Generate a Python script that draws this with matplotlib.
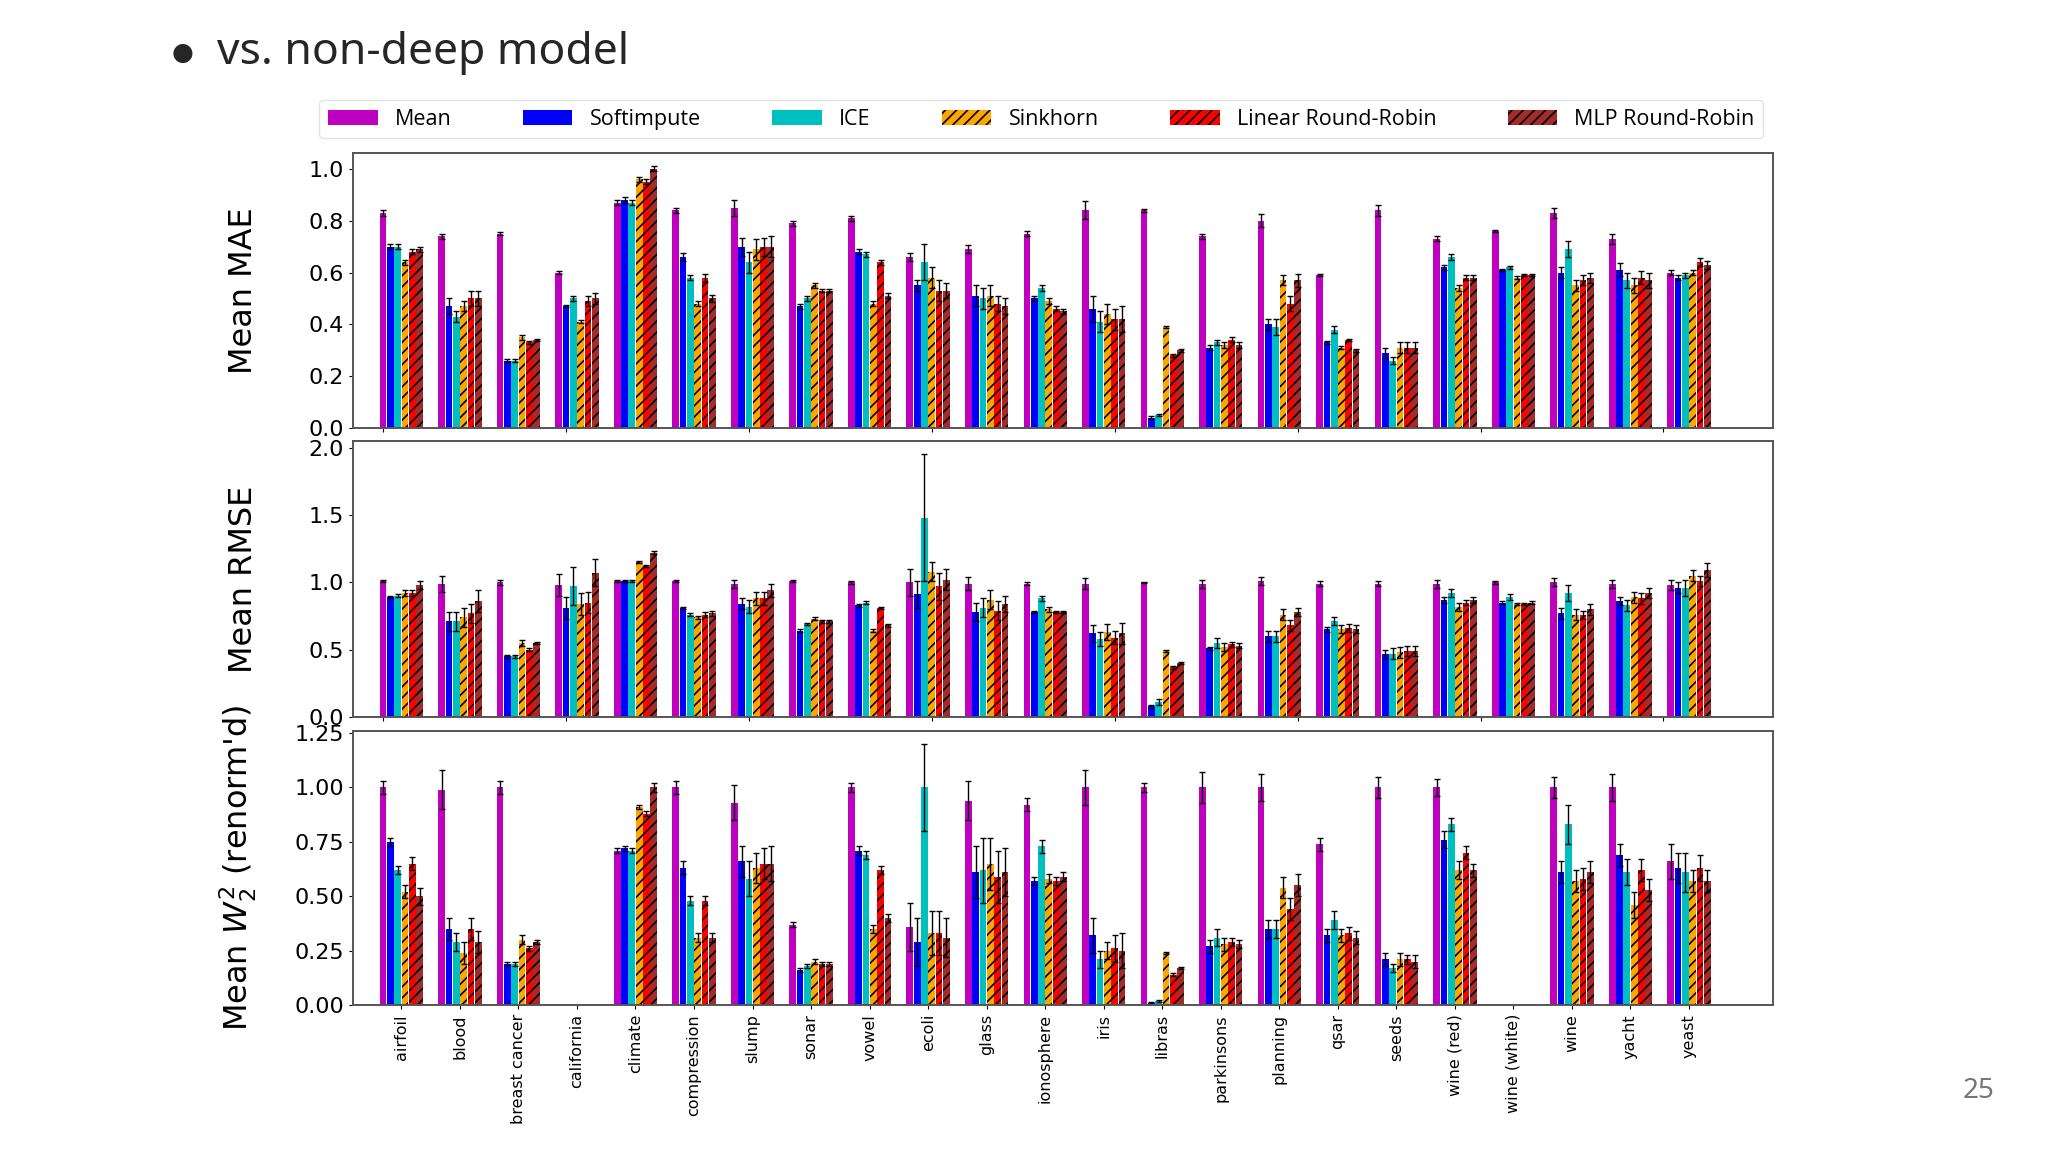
import numpy as np
import matplotlib
matplotlib.use("Agg")
import matplotlib.pyplot as plt
from matplotlib.patches import Patch
from matplotlib.ticker import MultipleLocator, FormatStrFormatter

datasets = ["airfoil", "blood", "breast cancer", "california", "climate", "compression",
            "slump", "sonar", "vowel", "ecoli", "glass", "ionosphere", "iris", "libras",
            "parkinsons", "planning", "qsar", "seeds", "wine (red)", "wine (white)",
            "wine", "yacht", "yeast"]
methods = ["Mean", "Softimpute", "ICE", "Sinkhorn", "Linear Round-Robin", "MLP Round-Robin"]
colors = ["#bf00bf", "#0000ff", "#00bfbf", "orange", "red", "brown"]
hatches = [None, None, None, "///", "///", "///"]

nan = np.nan

# ---- Mean MAE ----
mae_mean = [0.83, 0.74, 0.75, 0.60, 0.87, 0.84, 0.85, 0.79, 0.81, 0.66, 0.69, 0.75,
            0.84, 0.84, 0.74, 0.80, 0.59, 0.84, 0.73, 0.76, 0.83, 0.73, 0.60]
mae_soft = [0.70, 0.47, 0.26, 0.47, 0.88, 0.66, 0.70, 0.47, 0.68, 0.55, 0.51, 0.50,
            0.46, 0.04, 0.31, 0.40, 0.33, 0.29, 0.62, 0.61, 0.60, 0.61, 0.58]
mae_ice = [0.70, 0.43, 0.26, 0.50, 0.87, 0.58, 0.64, 0.50, 0.67, 0.64, 0.50, 0.54,
           0.41, 0.05, 0.33, 0.39, 0.38, 0.26, 0.66, 0.62, 0.69, 0.57, 0.59]
mae_sink = [0.64, 0.47, 0.35, 0.41, 0.96, 0.48, 0.69, 0.55, 0.48, 0.58, 0.51, 0.49,
            0.44, 0.39, 0.32, 0.57, 0.31, 0.31, 0.54, 0.58, 0.55, 0.55, 0.60]
mae_lin = [0.68, 0.50, 0.33, 0.49, 0.95, 0.58, 0.70, 0.53, 0.64, 0.53, 0.48, 0.46,
           0.42, 0.28, 0.34, 0.48, 0.34, 0.31, 0.58, 0.59, 0.57, 0.58, 0.64]
mae_mlp = [0.69, 0.50, 0.34, 0.50, 1.00, 0.50, 0.70, 0.53, 0.51, 0.53, 0.47, 0.45,
           0.42, 0.30, 0.32, 0.57, 0.30, 0.31, 0.58, 0.59, 0.58, 0.57, 0.63]

mae_mean_err = [.01, .01, .005, .005, .01, .01, .03, .01, .01, .015, .015, .01,
                .035, .005, .01, .025, .005, .02, .01, .005, .02, .02, .01]
mae_soft_err = [.01, .03, .005, .005, .01, .015, .035, .01, .01, .02, .04, .01,
                .05, .005, .01, .02, .005, .02, .01, .005, .02, .025, .01]
mae_ice_err = [.01, .02, .005, .01, .01, .01, .04, .01, .01, .07, .04, .01,
               .04, .005, .01, .03, .015, .015, .01, .005, .03, .03, .01]
mae_sink_err = [.01, .02, .01, .005, .01, .01, .04, .01, .01, .04, .04, .01,
                .04, .005, .01, .02, .005, .02, .01, .005, .02, .03, .01]
mae_lin_err = [.01, .03, .005, .02, .01, .015, .035, .005, .01, .04, .03, .01,
               .04, .005, .01, .03, .005, .02, .01, .005, .02, .025, .015]
mae_mlp_err = [.01, .03, .005, .02, .01, .015, .04, .005, .01, .03, .03, .01,
               .05, .005, .01, .025, .005, .02, .01, .005, .02, .03, .015]

# ---- Mean RMSE ----
rmse_mean = [1.01, 0.99, 1.00, 0.98, 1.01, 1.01, 0.99, 1.01, 1.00, 1.00, 0.99, 0.99,
             0.99, 1.00, 0.99, 1.01, 0.99, 0.99, 0.99, 1.00, 1.00, 0.99, 0.98]
rmse_soft = [0.89, 0.71, 0.45, 0.81, 1.01, 0.81, 0.84, 0.64, 0.83, 0.91, 0.78, 0.78,
             0.62, 0.08, 0.51, 0.60, 0.65, 0.47, 0.87, 0.85, 0.77, 0.86, 0.96]
rmse_ice = [0.90, 0.71, 0.45, 0.97, 1.01, 0.76, 0.82, 0.69, 0.85, 1.48, 0.81, 0.88,
            0.58, 0.11, 0.55, 0.60, 0.71, 0.47, 0.92, 0.89, 0.92, 0.83, 0.96]
rmse_sink = [0.92, 0.74, 0.55, 0.84, 1.15, 0.74, 0.88, 0.73, 0.64, 1.08, 0.87, 0.80,
             0.63, 0.49, 0.52, 0.76, 0.65, 0.48, 0.82, 0.84, 0.76, 0.89, 1.05]
rmse_lin = [0.92, 0.77, 0.50, 0.85, 1.12, 0.76, 0.88, 0.71, 0.81, 0.97, 0.79, 0.78,
            0.59, 0.37, 0.54, 0.68, 0.66, 0.49, 0.85, 0.84, 0.76, 0.88, 1.01]
rmse_mlp = [0.98, 0.86, 0.55, 1.07, 1.22, 0.77, 0.94, 0.71, 0.68, 1.02, 0.84, 0.78,
            0.62, 0.40, 0.53, 0.78, 0.65, 0.49, 0.87, 0.85, 0.80, 0.92, 1.09]

rmse_mean_err = [.01, .06, .02, .08, .01, .01, .03, .01, .01, .10, .05, .01,
                 .04, .005, .03, .03, .02, .02, .03, .01, .03, .03, .04]
rmse_soft_err = [.01, .07, .01, .08, .01, .01, .04, .01, .01, .10, .07, .01,
                 .06, .01, .01, .04, .02, .03, .02, .01, .04, .03, .04]
rmse_ice_err = [.01, .07, .01, .14, .01, .01, .05, .01, .01, .47, .07, .02,
                .05, .02, .04, .04, .03, .04, .03, .02, .06, .04, .06]
rmse_sink_err = [.02, .07, .02, .08, .01, .01, .05, .01, .01, .07, .07, .02,
                 .06, .01, .03, .04, .03, .04, .03, .01, .04, .04, .04]
rmse_lin_err = [.02, .07, .01, .08, .01, .02, .05, .01, .01, .10, .07, .01,
                .05, .01, .02, .04, .03, .04, .02, .01, .03, .04, .04]
rmse_mlp_err = [.03, .08, .01, .10, .01, .02, .05, .01, .01, .08, .06, .01,
                .08, .01, .02, .03, .03, .04, .02, .01, .04, .04, .05]

# ---- Mean W2^2 (renormalised) ----
w2_mean = [1.00, 0.99, 1.00, nan, 0.71, 1.00, 0.93, 0.37, 1.00, 0.36, 0.94, 0.92,
           1.00, 1.00, 1.00, 1.00, 0.74, 1.00, 1.00, nan, 1.00, 1.00, 0.66]
w2_soft = [0.75, 0.35, 0.19, nan, 0.72, 0.63, 0.66, 0.16, 0.71, 0.29, 0.61, 0.57,
           0.32, 0.01, 0.27, 0.35, 0.32, 0.21, 0.76, nan, 0.61, 0.69, 0.63]
w2_ice = [0.62, 0.29, 0.19, nan, 0.71, 0.48, 0.58, 0.18, 0.69, 1.00, 0.62, 0.73,
          0.21, 0.02, 0.31, 0.35, 0.39, 0.17, 0.83, nan, 0.83, 0.61, 0.61]
w2_sink = [0.52, 0.24, 0.30, nan, 0.91, 0.31, 0.63, 0.20, 0.35, 0.33, 0.65, 0.58,
           0.25, 0.24, 0.28, 0.54, 0.32, 0.21, 0.62, nan, 0.57, 0.46, 0.57]
w2_lin = [0.65, 0.35, 0.26, nan, 0.88, 0.48, 0.65, 0.19, 0.62, 0.33, 0.59, 0.57,
          0.26, 0.14, 0.29, 0.44, 0.33, 0.21, 0.70, nan, 0.58, 0.62, 0.63]
w2_mlp = [0.50, 0.29, 0.29, nan, 1.00, 0.31, 0.65, 0.19, 0.40, 0.31, 0.61, 0.59,
          0.25, 0.17, 0.28, 0.55, 0.31, 0.20, 0.62, nan, 0.61, 0.53, 0.57]

w2_mean_err = [.03, .09, .03, nan, .01, .03, .08, .01, .02, .11, .09, .03,
               .08, .02, .07, .06, .03, .05, .04, nan, .05, .06, .08]
w2_soft_err = [.02, .05, .01, nan, .01, .03, .07, .01, .02, .11, .12, .02,
               .08, .005, .03, .04, .03, .03, .04, nan, .05, .05, .07]
w2_ice_err = [.02, .04, .01, nan, .01, .02, .08, .01, .02, .20, .15, .03,
              .04, .005, .04, .04, .04, .02, .03, nan, .09, .06, .09]
w2_sink_err = [.03, .05, .02, nan, .01, .02, .07, .01, .02, .10, .12, .02,
               .04, .005, .03, .05, .03, .03, .04, nan, .05, .06, .05]
w2_lin_err = [.03, .05, .01, nan, .01, .02, .07, .01, .02, .10, .12, .02,
              .06, .005, .02, .05, .03, .02, .03, nan, .05, .05, .06]
w2_mlp_err = [.04, .05, .01, nan, .02, .02, .08, .01, .02, .09, .11, .02,
              .08, .005, .02, .05, .03, .03, .03, nan, .05, .05, .05]

panels = [
    ("Mean MAE", [mae_mean, mae_soft, mae_ice, mae_sink, mae_lin, mae_mlp],
     [mae_mean_err, mae_soft_err, mae_ice_err, mae_sink_err, mae_lin_err, mae_mlp_err]),
    ("Mean RMSE", [rmse_mean, rmse_soft, rmse_ice, rmse_sink, rmse_lin, rmse_mlp],
     [rmse_mean_err, rmse_soft_err, rmse_ice_err, rmse_sink_err, rmse_lin_err, rmse_mlp_err]),
    (r"Mean $W_2^2$ (renorm'd)", [w2_mean, w2_soft, w2_ice, w2_sink, w2_lin, w2_mlp],
     [w2_mean_err, w2_soft_err, w2_ice_err, w2_sink_err, w2_lin_err, w2_mlp_err]),
]

plt.rcParams["hatch.linewidth"] = 1.2

fig = plt.figure(figsize=(20.48, 11.52), dpi=100)
fig.patch.set_facecolor("white")

x = np.arange(len(datasets)) * 0.8
width = 0.1
boxes = [(0.6285, 0.867), (0.3776, 0.617), (0.1276, 0.3655)]

axes = []
for (bot, top), (ylabel, vals, errs) in zip(boxes, panels):
    ax = fig.add_axes([0.1724, bot, 0.6934, top - bot])
    for k, (v, e) in enumerate(zip(vals, errs)):
        ax.bar(x + k * width, v, width * 0.92, yerr=e, color=colors[k],
               hatch=hatches[k], edgecolor="black" if hatches[k] else colors[k],
               linewidth=0, capsize=2.5,
               error_kw=dict(ecolor="black", elinewidth=1.0, capthick=1.0))
    ax.set_ylabel(ylabel, fontsize=23)
    ax.tick_params(axis="y", labelsize=16, length=3)
    ax.tick_params(axis="x", length=3)
    ax.set_xlim(-0.41, 19.0)
    for s in ax.spines.values():
        s.set_color("#555555")
        s.set_linewidth(1.4)
    ax.yaxis.set_label_coords(-0.066, 0.5)
    axes.append(ax)

for ax in axes[:2]:
    ax.set_xticklabels([])
axes[2].set_xticks(x + 2.5 * width)
axes[2].set_xticklabels(datasets, rotation=90, fontsize=11.5)
axes[2].yaxis.set_major_locator(MultipleLocator(0.25))
axes[2].yaxis.set_major_formatter(FormatStrFormatter("%.2f"))
axes[2].set_ylim(0, 1.26)

handles = [Patch(facecolor=c, hatch=h, edgecolor="black" if h else c, linewidth=0)
           for c, h in zip(colors, hatches)]
fig.legend(handles, methods, loc="lower left", ncol=6, mode="expand",
           bbox_to_anchor=(0.156, 0.880, 0.705, 0.030), borderaxespad=0,
           handlelength=2.3, frameon=True, edgecolor="#dddddd",
           fancybox=True, prop={"family": "Open Sans", "size": 15.5})

fig.text(0.089, 0.954, "\u25cf", fontsize=18, color="#262626", va="center",
         ha="center", family="DejaVu Sans")
fig.text(0.106, 0.954, "vs. non-deep model", fontsize=32, color="#262626",
         va="center", family="Noto Sans")
fig.text(0.966, 0.053, "25", fontsize=20, color="#777777", ha="center",
         va="center", family="Noto Sans")

fig.savefig("out.png", dpi=100, facecolor="white")
